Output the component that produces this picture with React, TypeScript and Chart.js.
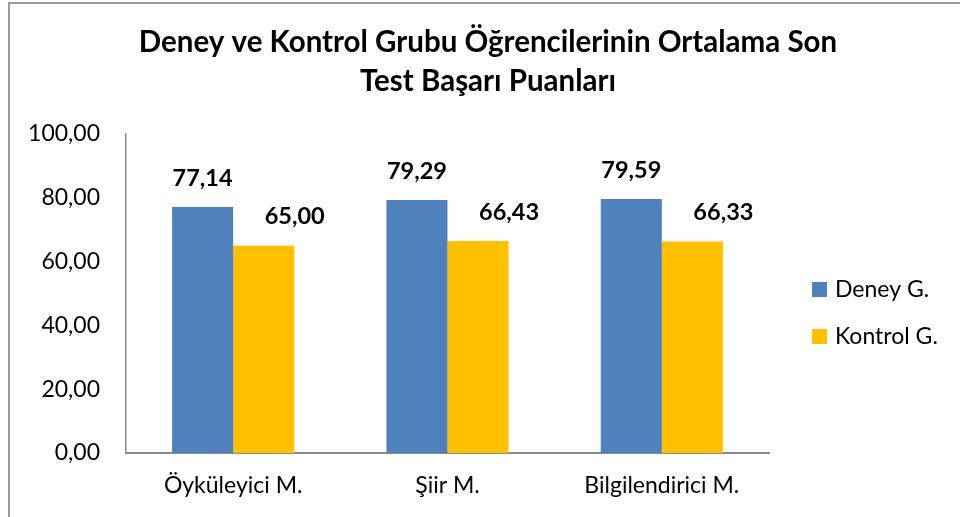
import React, { useEffect, useRef } from "react";
import { Chart, registerables } from "chart.js";

Chart.register(...registerables);

const categories = ["Öyküleyici M.", "Şiir M.", "Bilgilendirici M."];
const deneyValues = [77.14, 79.29, 79.59];
const kontrolValues = [65.0, 66.43, 66.33];
const seriesNames = ["Deney G.", "Kontrol G."];
const titleLines = ["Deney ve Kontrol Grubu Öğrencilerinin Ortalama Son", "Test Başarı Puanları"];
const yTicks = [0, 20, 40, 60, 80, 100];

const COLORS = ["#4F81BD", "#FFC000"];
const FONT = "Lato, 'Noto Sans', sans-serif";

const fmt = (v: number) => v.toFixed(2).replace(".", ",");

const decorPlugin = {
  id: "decor",
  beforeDraw(chart: any) {
    const ctx = chart.ctx;
    ctx.save();
    ctx.fillStyle = "#ffffff";
    ctx.fillRect(0, 0, chart.width, chart.height);
    ctx.strokeStyle = "#9a9a9a";
    ctx.lineWidth = 2;
    ctx.beginPath();
    ctx.moveTo(9, chart.height);
    ctx.lineTo(9, 3);
    ctx.lineTo(chart.width, 3);
    ctx.stroke();
    ctx.restore();
  },
  afterDraw(chart: any) {
    const ctx = chart.ctx;
    ctx.save();
    // title
    ctx.fillStyle = "#000";
    ctx.textAlign = "center";
    ctx.textBaseline = "alphabetic";
    ctx.font = `bold 29.5px ${FONT}`;
    ctx.fillText(titleLines[0], 488, 52);
    ctx.fillText(titleLines[1], 488, 91);

    // data labels
    ctx.font = `bold 23.5px ${FONT}`;
    ctx.textBaseline = "middle";
    chart.data.datasets.forEach((ds: any, di: number) => {
      const meta = chart.getDatasetMeta(di);
      meta.data.forEach((bar: any, i: number) => {
        const dx = di === 1 ? 31 : 0;
        ctx.fillText(fmt(ds.data[i]), bar.x + dx, bar.y - 29);
      });
    });

    // legend
    ctx.textAlign = "left";
    ctx.textBaseline = "alphabetic";
    ctx.font = `23px ${FONT}`;
    const legendY = [289, 336];
    seriesNames.forEach((name, i) => {
      ctx.fillStyle = COLORS[i];
      ctx.fillRect(812, legendY[i] - 7, 15, 15);
      ctx.fillStyle = "#000";
      ctx.fillText(name, 835, legendY[i] + 8);
    });
    ctx.restore();
  },
};

export default function App() {
  const ref = useRef<HTMLCanvasElement>(null);
  useEffect(() => {
    document.body.style.margin = "0";
    const chart = new Chart(ref.current!, {
      type: "bar",
      data: {
        labels: categories,
        datasets: [
          { label: seriesNames[0], data: deneyValues, backgroundColor: COLORS[0] },
          { label: seriesNames[1], data: kontrolValues, backgroundColor: COLORS[1] },
        ],
      },
      options: {
        animation: false,
        responsive: false,
        devicePixelRatio: 1,
        layout: { padding: { top: 134, right: 191, left: 0, bottom: 0 } },
        datasets: { bar: { categoryPercentage: 0.57, barPercentage: 1 } } as any,
        plugins: { legend: { display: false }, title: { display: false }, tooltip: { enabled: false } },
        scales: {
          x: {
            grid: { display: false, drawTicks: false },
            border: { display: true, color: "#8a8a8a", width: 2 },
            ticks: { color: "#000", font: { family: FONT, size: 23 }, padding: 19 },
            afterFit: (s: any) => { s.height = 64; },
          },
          y: {
            min: 0,
            max: 100,
            afterBuildTicks: (s: any) => { s.ticks = yTicks.map((v) => ({ value: v })); },
            grid: { display: false, drawTicks: false },
            border: { display: true, color: "#8a8a8a", width: 1.5 },
            ticks: { color: "#000", font: { family: FONT, size: 23 }, padding: 26, callback: (v: any) => fmt(Number(v)) },
            afterFit: (s: any) => { s.width = 126; },
          },
        },
      },
      plugins: [decorPlugin],
    });
    return () => chart.destroy();
  }, []);
  return (
    <div style={{ width: 960, height: 517 }}>
      <canvas ref={ref} width={960} height={517} style={{ display: "block" }} />
    </div>
  );
}
